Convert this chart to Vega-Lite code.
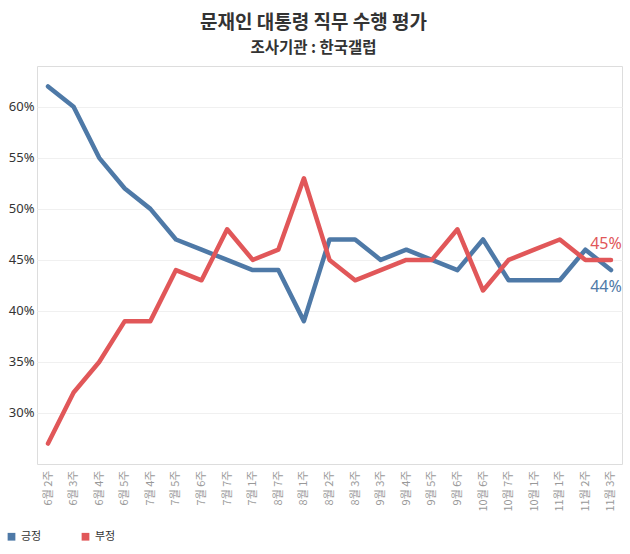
{
  "$schema": "https://vega.github.io/schema/vega-lite/v6.json",
  "autosize": {"type": "none"},
  "width": 585,
  "height": 398,
  "padding": {"left": 37, "top": 66, "right": 8, "bottom": 90},
  "background": "white",
  "config": {
    "font": "Noto Sans CJK KR",
    "view": {"stroke": "#dddddd", "strokeWidth": 1},
    "title": {"font": "Noto Sans CJK KR"}
  },
  "title": {
    "text": "문재인 대통령 직무 수행 평가",
    "subtitle": "조사기관 : 한국갤럽",
    "anchor": "middle",
    "dx": -16,
    "fontSize": 19,
    "fontWeight": "bold",
    "color": "#333333",
    "subtitleFontSize": 15.5,
    "subtitleFontWeight": "bold",
    "subtitleColor": "#333333",
    "subtitlePadding": 8,
    "offset": 10
  },
  "data": {
    "values": [
      {"week": "6월 2주", "type": "긍정", "value": 62},
      {"week": "6월 3주", "type": "긍정", "value": 60},
      {"week": "6월 4주", "type": "긍정", "value": 55},
      {"week": "6월 5주", "type": "긍정", "value": 52},
      {"week": "7월 4주", "type": "긍정", "value": 50},
      {"week": "7월 5주", "type": "긍정", "value": 47},
      {"week": "7월 6주", "type": "긍정", "value": 46},
      {"week": "7월 7주", "type": "긍정", "value": 45},
      {"week": "7월 1주", "type": "긍정", "value": 44},
      {"week": "8월 7주", "type": "긍정", "value": 44},
      {"week": "8월 1주", "type": "긍정", "value": 39},
      {"week": "8월 2주", "type": "긍정", "value": 47},
      {"week": "8월 3주", "type": "긍정", "value": 47},
      {"week": "9월 3주", "type": "긍정", "value": 45},
      {"week": "9월 4주", "type": "긍정", "value": 46},
      {"week": "9월 5주", "type": "긍정", "value": 45},
      {"week": "9월 6주", "type": "긍정", "value": 44},
      {"week": "10월 6주", "type": "긍정", "value": 47},
      {"week": "10월 7주", "type": "긍정", "value": 43},
      {"week": "10월 1주", "type": "긍정", "value": 43},
      {"week": "11월 1주", "type": "긍정", "value": 43},
      {"week": "11월 2주", "type": "긍정", "value": 46},
      {"week": "11월 3주", "type": "긍정", "value": 44},
      {"week": "6월 2주", "type": "부정", "value": 27},
      {"week": "6월 3주", "type": "부정", "value": 32},
      {"week": "6월 4주", "type": "부정", "value": 35},
      {"week": "6월 5주", "type": "부정", "value": 39},
      {"week": "7월 4주", "type": "부정", "value": 39},
      {"week": "7월 5주", "type": "부정", "value": 44},
      {"week": "7월 6주", "type": "부정", "value": 43},
      {"week": "7월 7주", "type": "부정", "value": 48},
      {"week": "7월 1주", "type": "부정", "value": 45},
      {"week": "8월 7주", "type": "부정", "value": 46},
      {"week": "8월 1주", "type": "부정", "value": 53},
      {"week": "8월 2주", "type": "부정", "value": 45},
      {"week": "8월 3주", "type": "부정", "value": 43},
      {"week": "9월 3주", "type": "부정", "value": 44},
      {"week": "9월 4주", "type": "부정", "value": 45},
      {"week": "9월 5주", "type": "부정", "value": 45},
      {"week": "9월 6주", "type": "부정", "value": 48},
      {"week": "10월 6주", "type": "부정", "value": 42},
      {"week": "10월 7주", "type": "부정", "value": 45},
      {"week": "10월 1주", "type": "부정", "value": 46},
      {"week": "11월 1주", "type": "부정", "value": 47},
      {"week": "11월 2주", "type": "부정", "value": 45},
      {"week": "11월 3주", "type": "부정", "value": 45}
    ]
  },
  "encoding": {
    "x": {
      "field": "week",
      "type": "ordinal",
      "sort": null,
      "scale": {"type": "point", "padding": 0.43},
      "axis": {
        "title": null,
        "labelAngle": -90,
        "labelColor": "#999999",
        "labelFontSize": 11,
        "labelPadding": 6,
        "ticks": false,
        "domain": false,
        "grid": false
      }
    },
    "y": {
      "field": "value",
      "type": "quantitative",
      "scale": {"domain": [25, 64], "nice": false, "zero": false},
      "axis": {
        "title": null,
        "values": [30, 35, 40, 45, 50, 55, 60],
        "labelExpr": "datum.value + '%'",
        "labelColor": "#333333",
        "labelFont": "Noto Sans",
        "labelFontSize": 13,
        "labelPadding": 3,
        "ticks": false,
        "domain": false,
        "grid": true,
        "gridColor": "#f0f0f0",
        "gridWidth": 1
      }
    },
    "color": {
      "field": "type",
      "type": "nominal",
      "scale": {"domain": ["긍정", "부정"], "range": ["#4e79a7", "#e15759"]},
      "legend": {
        "title": null,
        "orient": "none",
        "direction": "horizontal",
        "legendX": -31,
        "legendY": 465,
        "symbolType": "square",
        "symbolSize": 60,
        "symbolStrokeWidth": 0,
        "labelFontSize": 11,
        "labelColor": "#333333",
        "columnPadding": 38
      }
    }
  },
  "layer": [
    {
      "mark": {"type": "line", "strokeWidth": 4.5, "strokeCap": "round", "strokeJoin": "round"}
    },
    {
      "transform": [{"filter": "datum.week == '11월 3주' && datum.type == '부정'"}],
      "mark": {"type": "text", "fontSize": 16, "dy": -16, "dx": -5, "align": "center", "font": "Noto Sans"},
      "encoding": {"text": {"value": "45%"}}
    },
    {
      "transform": [{"filter": "datum.week == '11월 3주' && datum.type == '긍정'"}],
      "mark": {"type": "text", "fontSize": 16, "dy": 17, "dx": -5, "align": "center", "font": "Noto Sans"},
      "encoding": {"text": {"value": "44%"}}
    }
  ]
}
